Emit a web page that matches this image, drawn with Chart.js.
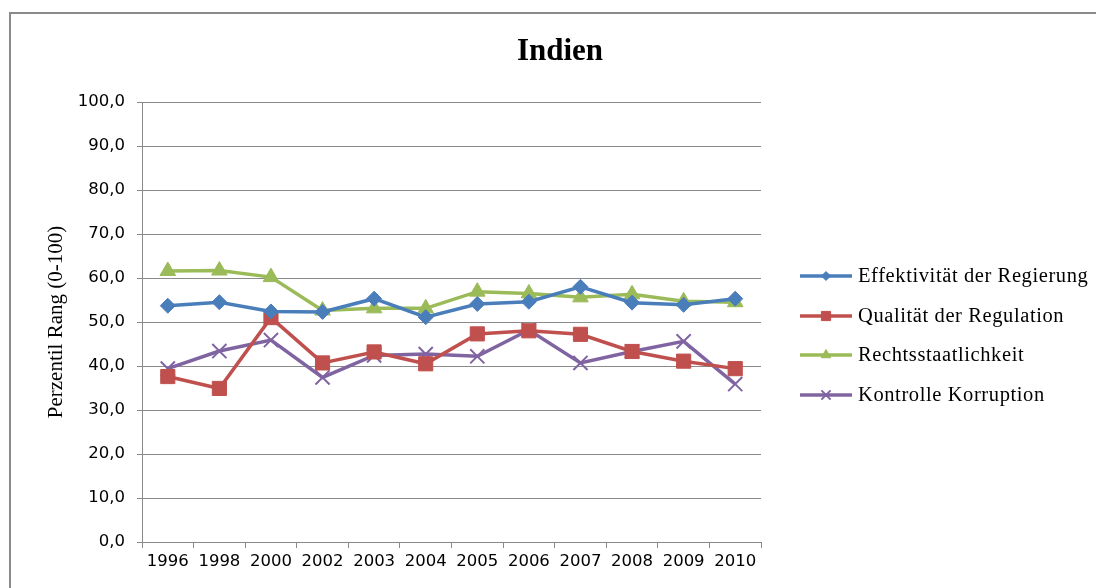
<!DOCTYPE html>
<html>
<head>
<meta charset="utf-8">
<script src="https://cdn.jsdelivr.net/npm/chart.js@4.4.1/dist/chart.umd.min.js"></script>
<style>
  html, body { margin: 0; padding: 0; background: #fff; overflow: hidden; }
  #wrap { position: relative; width: 1096px; height: 588px; }
  #chart { position: absolute; left: 0; top: 0; }
  #frame {
    position: absolute; left: 9px; top: 12px; width: 1200px; height: 700px;
    border-left: 2px solid #8a8a8a; border-top: 2px solid #8a8a8a;
    pointer-events: none;
  }
</style>
</head>
<body>
<div id="wrap">
  <canvas id="chart" width="1096" height="588"></canvas>
  <div id="frame"></div>
</div>
<script>
// Daten (Perzentil Rang 0-100)
const years = ['1996', '1998', '2000', '2002', '2003', '2004', '2005', '2006', '2007', '2008', '2009', '2010'];
const effektivitaet = [53.7, 54.5, 52.4, 52.3, 55.3, 51.1, 54.1, 54.6, 58.0, 54.4, 53.9, 55.3];
const qualitaet = [37.6, 34.9, 51.0, 40.7, 43.2, 40.5, 47.3, 48.0, 47.2, 43.3, 41.1, 39.4];
const rechtsstaat = [61.6, 61.7, 60.2, 52.6, 53.1, 53.1, 56.9, 56.5, 55.6, 56.3, 54.7, 54.5];
const korruption = [39.4, 43.4, 45.9, 37.4, 42.4, 42.7, 42.2, 48.2, 40.7, 43.3, 45.6, 35.9];
const yTicks = [0, 10, 20, 30, 40, 50, 60, 70, 80, 90, 100];

const chartTitle = 'Indien';
const yTitle = 'Perzentil Rang (0-100)';

const gridColor = '#8a8a8a';
const tickFont = { family: '"DejaVu Sans", sans-serif', size: 16.5 };

function serie(label, data, color, style, radius, legendRadius, pw) {
    return {
        label: label,
        data: data,
        borderColor: color,
        backgroundColor: color,
        borderWidth: 3.5,
        pointStyle: style,
        pointRadius: radius,
        pointHoverRadius: radius,
        pointBackgroundColor: color,
        pointBorderColor: color,
        pointBorderWidth: pw,
        legendRadius: legendRadius,
        tension: 0
    };
}

// Titel und Legende (Linie mit Marker, wie in Excel) selbst zeichnen
const extrasPlugin = {
    id: 'extras',
    afterDraw(chart) {
        const ctx = chart.ctx;
        ctx.save();
        ctx.fillStyle = '#000';
        ctx.textAlign = 'center';
        ctx.textBaseline = 'middle';
        ctx.font = 'bold 31px "Liberation Serif", serif';
        ctx.fillText(chartTitle, 560, 52);

        const rows = [276, 316, 355, 395];
        ctx.font = '20.5px "Liberation Serif", serif';
        ctx.textAlign = 'left';
        chart.data.datasets.forEach((ds, i) => {
            const y = rows[i];
            ctx.strokeStyle = ds.borderColor;
            ctx.lineWidth = 3.5;
            ctx.beginPath();
            ctx.moveTo(800, y);
            ctx.lineTo(852, y);
            ctx.stroke();
            ctx.fillStyle = ds.borderColor;
            ctx.strokeStyle = ds.borderColor;
            ctx.lineWidth = ds.pointBorderWidth;
            Chart.helpers.drawPoint(ctx, { pointStyle: ds.pointStyle, radius: ds.legendRadius, borderWidth: ds.pointBorderWidth, rotation: 0 }, 826, y);
            ctx.fillStyle = '#000';
            if ('letterSpacing' in ctx) ctx.letterSpacing = '0.6px';
            ctx.fillText(ds.label, 858, y + 1);
            if ('letterSpacing' in ctx) ctx.letterSpacing = '0px';
        });
        ctx.restore();
    }
};

new Chart(document.getElementById('chart'), {
    type: 'line',
    data: {
        labels: years,
        datasets: [
            serie('Effektivität der Regierung', effektivitaet, '#4a7ebb', 'rectRot', 7.5, 4.5, 1),
            serie('Qualität der Regulation', qualitaet, '#c0504d', 'rect', 10, 6.5, 1),
            serie('Rechtsstaatlichkeit', rechtsstaat, '#9bbb59', 'triangle', 9, 5.5, 1),
            serie('Kontrolle Korruption', korruption, '#8064a2', 'crossRot', 10, 6.5, 2)
        ]
    },
    options: {
        responsive: false,
        animation: false,
        layout: { padding: { left: 24, right: 335, top: 102, bottom: 0 } },
        plugins: {
            legend: { display: false },
            title: { display: false },
            tooltip: { enabled: false }
        },
        scales: {
            x: {
                offset: true,
                grid: { offset: true, drawOnChartArea: false, drawTicks: true, tickLength: 6, color: gridColor },
                border: { color: gridColor, width: 1 },
                ticks: { color: '#000', font: tickFont, padding: 4, maxRotation: 0, autoSkip: false },
                afterFit(scale) { scale.height = 46; }
            },
            y: {
                min: 0,
                max: 100,
                afterBuildTicks(scale) { scale.ticks = yTicks.map(v => ({ value: v })); },
                grid: { color: gridColor, tickLength: 5 },
                border: { color: gridColor, width: 1 },
                ticks: {
                    color: '#000',
                    font: tickFont,
                    padding: 12,
                    callback: v => v.toFixed(1).replace('.', ',')
                },
                title: {
                    display: true,
                    text: yTitle,
                    color: '#000',
                    font: { family: '"Liberation Serif", serif', size: 21 },
                    padding: { top: 20, bottom: 0 }
                },
                afterFit(scale) { scale.width = 118; }
            }
        }
    },
    plugins: [extrasPlugin]
});
</script>
</body>
</html>
